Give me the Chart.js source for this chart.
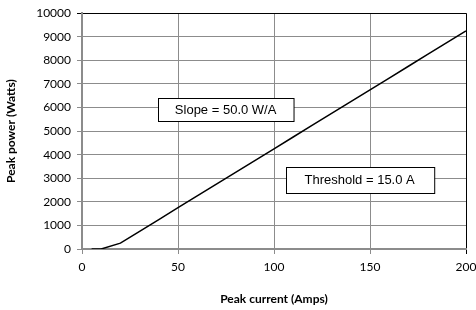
<!DOCTYPE html>
<html>
<head>
<meta charset="utf-8">
<script src="https://cdn.jsdelivr.net/npm/chart.js@4/dist/chart.umd.min.js"></script>
<style>
  html, body { margin: 0; padding: 0; background: #fff; }
  #wrap { width: 476px; height: 310px; position: relative; }
</style>
</head>
<body>
<div id="wrap"><canvas id="chart"></canvas></div>
<script>
// peak current (A) vs peak power (W)
const currentAmps = [5, 10, 20, 30, 40, 50, 60, 70, 80, 90, 100, 110, 120, 130, 140, 150, 160, 170, 180, 190, 200];
const powerWatts = [0, 0, 250, 750, 1250, 1750, 2250, 2750, 3250, 3750, 4250, 4750, 5250, 5750, 6250, 6750, 7250, 7750, 8250, 8750, 9250];
const xTicks = [0, 50, 100, 150, 200];
const yTicks = [0, 1000, 2000, 3000, 4000, 5000, 6000, 7000, 8000, 9000, 10000];

// text boxes, anchored at data coordinates
const noteLabels = ['Slope = 50.0 W/A', 'Threshold = 15.0 A'];
const noteX = [74.8, 144.6];
const noteY = [5900, 2940];

const gridGrey = '#8c8c8c';
const tickFont = { family: 'Lato', size: 12 };
const titleFont = { family: 'Lato', size: 12, weight: 'bold' };

const notesPlugin = {
    id: 'notes',
    afterDraw(chart) {
        const ctx = chart.ctx;
        const xs = chart.scales.x, ys = chart.scales.y;
        ctx.save();
        ctx.font = '13px "Liberation Sans", Arial, sans-serif';
        ctx.textAlign = 'center';
        ctx.textBaseline = 'middle';
        noteLabels.forEach((txt, i) => {
            const cx = xs.getPixelForValue(noteX[i]);
            const cy = ys.getPixelForValue(noteY[i]);
            const w = ctx.measureText(txt).width + (i === 0 ? 34 : 38);
            const h = i === 0 ? 23 : 26;
            const left = Math.round(cx - w / 2) + 0.5, top = Math.round(cy - h / 2) + 0.5;
            ctx.fillStyle = '#fff';
            ctx.fillRect(left, top, w, h);
            ctx.strokeStyle = '#000';
            ctx.lineWidth = 1;
            ctx.strokeRect(left, top, w, h);
            ctx.fillStyle = '#000';
            ctx.fillText(txt, cx, cy + 1);
        });
        ctx.restore();
    }
};

new Chart(document.getElementById('chart'), {
    type: 'line',
    data: {
        datasets: [{
            data: currentAmps.map((x, i) => ({ x: x, y: powerWatts[i] })),
            borderColor: '#000',
            borderWidth: 1.5,
            pointRadius: 0,
            tension: 0,
            fill: false
        }]
    },
    options: {
        responsive: true,
        maintainAspectRatio: false,
        animation: false,
        layout: { padding: { left: 4, right: 0, top: 8, bottom: 4 } },
        plugins: { legend: { display: false }, tooltip: { enabled: false } },
        scales: {
            x: {
                type: 'linear',
                min: 0, max: 200,
                afterBuildTicks: (s) => { s.ticks = xTicks.map(v => ({ value: v })); },
                afterFit: (s) => { s.height = 57; s.paddingRight = 10; s.paddingLeft = 0; },
                ticks: { color: '#000', font: tickFont, padding: 6, maxRotation: 0, callback: (v) => String(v) },
                grid: {
                    color: (c) => c.tick && c.tick.value === 200 ? '#000' : gridGrey,
                    lineWidth: 1,
                    tickLength: 5
                },
                border: { display: true, color: gridGrey, width: 2 },
                title: { display: true, text: 'Peak current (Amps)', color: '#000', font: titleFont, padding: { top: 7, bottom: 0 } }
            },
            y: {
                type: 'linear',
                min: 0, max: 10000,
                afterBuildTicks: (s) => { s.ticks = yTicks.map(v => ({ value: v })); },
                afterFit: (s) => { s.width = 78; },
                ticks: { color: '#000', font: tickFont, padding: 6, callback: (v) => String(v) },
                grid: {
                    color: (c) => c.tick && c.tick.value === 10000 ? '#000' : gridGrey,
                    lineWidth: 1,
                    tickLength: 5
                },
                border: { display: true, color: gridGrey, width: 2 },
                title: { display: true, text: 'Peak power (Watts)', color: '#000', font: titleFont, padding: { top: 0, bottom: 10 } }
            }
        }
    },
    plugins: [notesPlugin]
});
</script>
</body>
</html>
